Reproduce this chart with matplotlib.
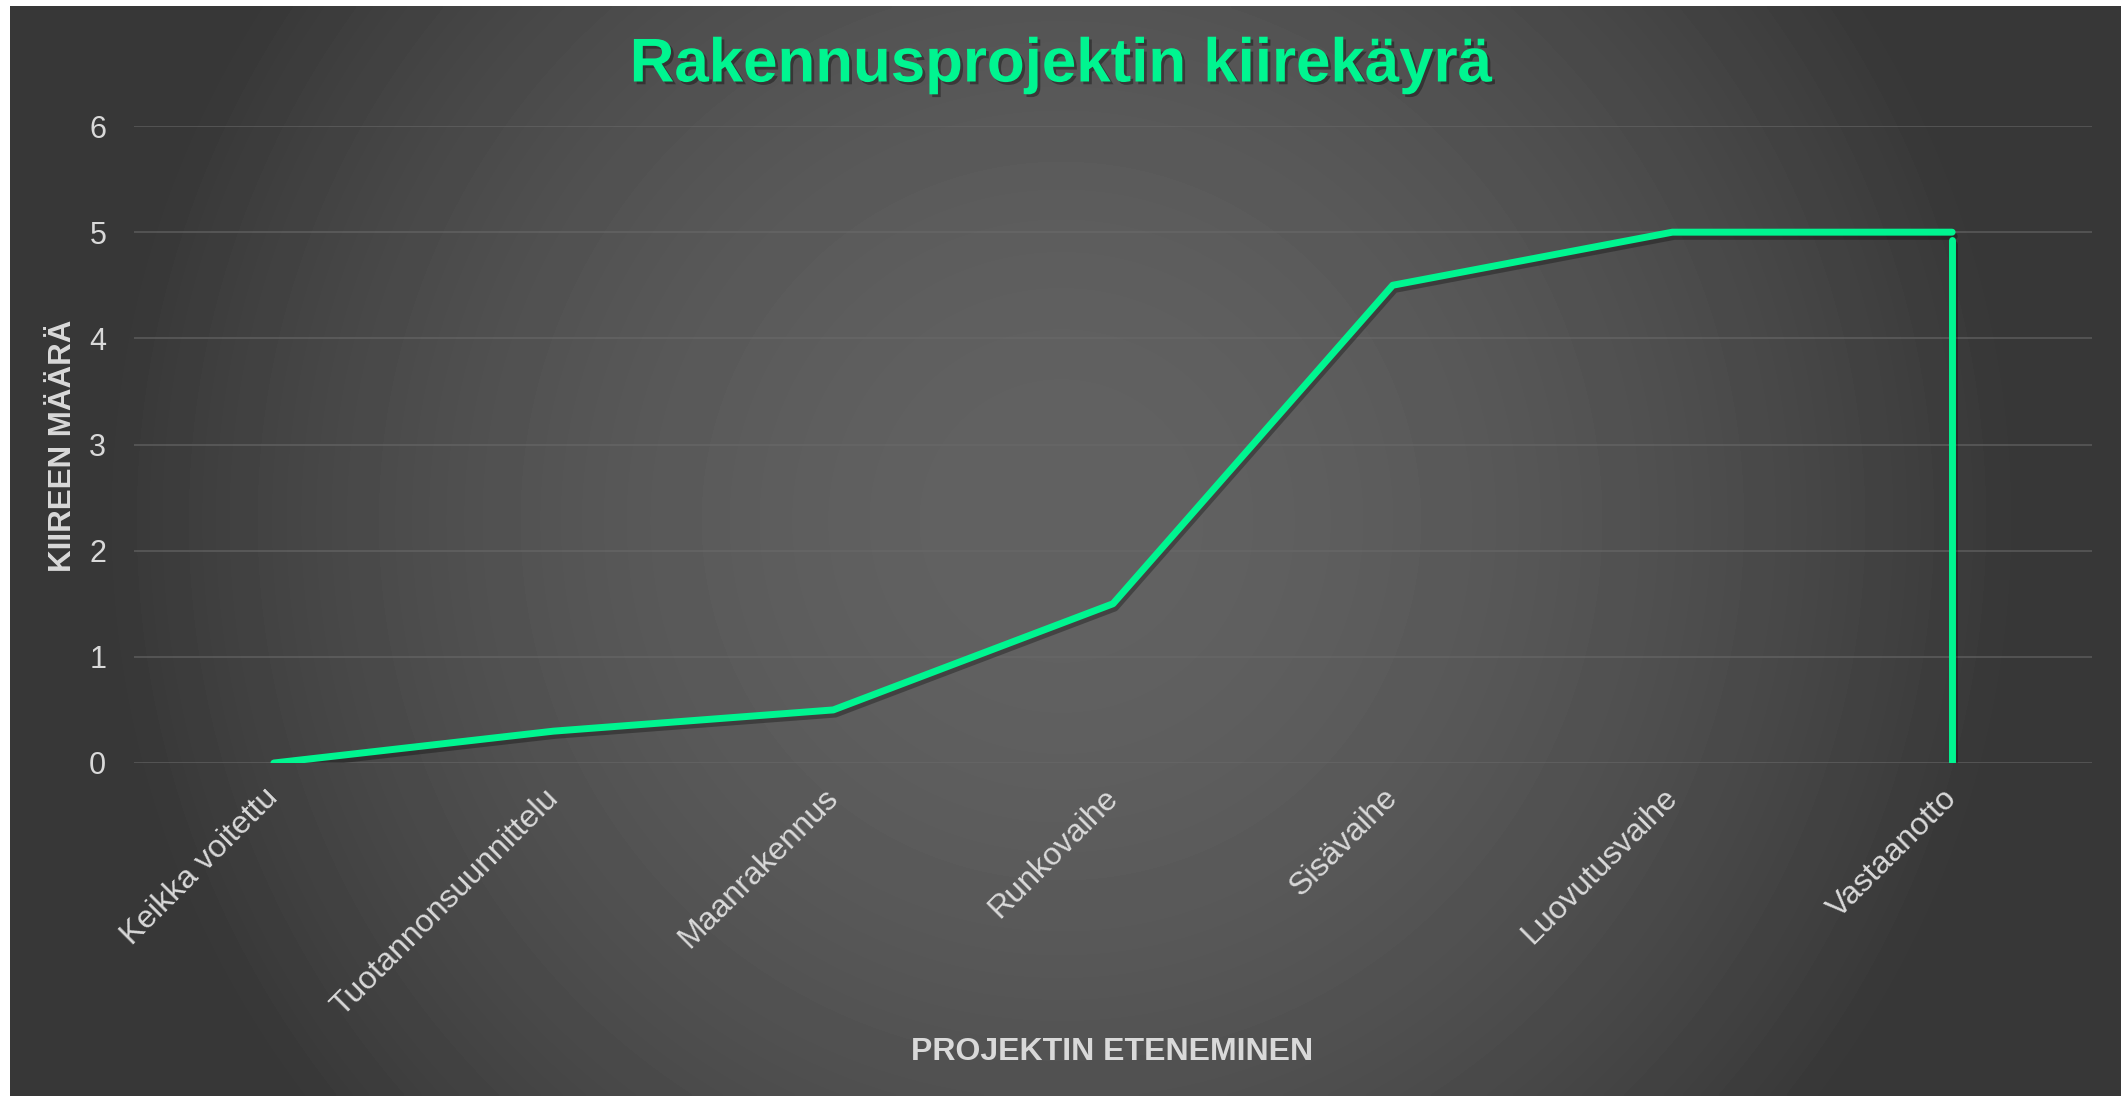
import numpy as np
import matplotlib
matplotlib.use("Agg")
import matplotlib.pyplot as plt
import matplotlib.patheffects as pe

# ── Data ─────────────────────────────────────────────────────────────────────
categories = ["Keikka voitettu", "Tuotannonsuunnittelu", "Maanrakennus",
              "Runkovaihe", "Sisävaihe", "Luovutusvaihe", "Vastaanotto"]
kiire = [0, 0.3, 0.5, 1.5, 4.5, 5, 5]
drop_values = [4.93, 0]          # vertical drop at the last phase
y_ticks = [0, 1, 2, 3, 4, 5, 6]

TITLE = "Rakennusprojektin kiirekäyrä"
X_LABEL = "PROJEKTIN ETENEMINEN"
Y_LABEL = "KIIREEN MÄÄRÄ"

# ── Style ────────────────────────────────────────────────────────────────────
GREEN = "#00F590"
TEXT = "#D9D9D9"
plt.rcParams["font.family"] = ["Liberation Sans", "DejaVu Sans"]

W, H, DPI = 2121, 1100, 100
fig = plt.figure(figsize=(W / DPI, H / DPI), dpi=DPI, facecolor="white")

# radial gradient background panel (pixel based, lighter in the middle)
PX0, PY0, PX1, PY1 = 10, 6, W, 1096
bg = fig.add_axes([PX0 / W, 1 - PY1 / H, (PX1 - PX0) / W, (PY1 - PY0) / H])
bg.set_axis_off()
yy, xx = np.mgrid[PY0:PY1:4, PX0:PX1:4]
r = np.hypot(xx - 1060, yy - 520) / 960.0
f = np.clip(r, 0, 1) ** 1.8
shade = (0x62 + (0x37 - 0x62) * f) / 255.0
bg.imshow(shade, cmap="gray", vmin=0, vmax=1, aspect="auto",
          extent=[0, 1, 0, 1], origin="upper", interpolation="bilinear")
bg.set_xlim(0, 1)
bg.set_ylim(0, 1)

# main axes
ax = fig.add_axes([134 / W, 1 - 763 / H, (2092 - 134) / W, (763 - 126) / H])
ax.set_facecolor("none")
x = np.arange(len(categories))

line_fx = [pe.SimpleLineShadow(offset=(1.5, -3), shadow_color="black", alpha=0.3),
           pe.Normal()]
ax.plot(x, kiire, color=GREEN, lw=5.0, solid_capstyle="round",
        solid_joinstyle="round", zorder=3, path_effects=line_fx)
ax.plot([x[-1], x[-1]], drop_values, color=GREEN, lw=5.0,
        solid_capstyle="round", zorder=3, path_effects=line_fx)

ax.set_xlim(-0.5, len(categories) - 0.5)
ax.set_ylim(0, 6)
ax.set_yticks(y_ticks)
ax.set_xticks(x)
ax.set_xticklabels(categories, rotation=45, ha="right", va="center",
                   rotation_mode="anchor")
ax.tick_params(axis="both", length=0, colors=TEXT)
ax.tick_params(axis="y", pad=20, labelsize=22)
ax.tick_params(axis="x", pad=22, labelsize=23)
ax.grid(axis="y", color="#6a6a6a", lw=1.3, alpha=0.6)
ax.set_axisbelow(True)
for s in ax.spines.values():
    s.set_visible(False)

fig.text(0.5, 1 - 66 / H, TITLE, ha="center", va="center", color=GREEN,
         fontsize=44.5, fontweight="bold",
         path_effects=[pe.withSimplePatchShadow(offset=(2, -2), shadow_rgbFace="black",
                                                alpha=0.35)])
fig.text(1112 / W, 1 - 1052 / H, X_LABEL, ha="center", va="center",
         color=TEXT, fontsize=23, fontweight="bold")
fig.text(63 / W, 1 - 446 / H, Y_LABEL, ha="center", va="center",
         color=TEXT, fontsize=22.5, fontweight="bold", rotation=90)

fig.savefig("out.png", dpi=DPI, facecolor="white")
